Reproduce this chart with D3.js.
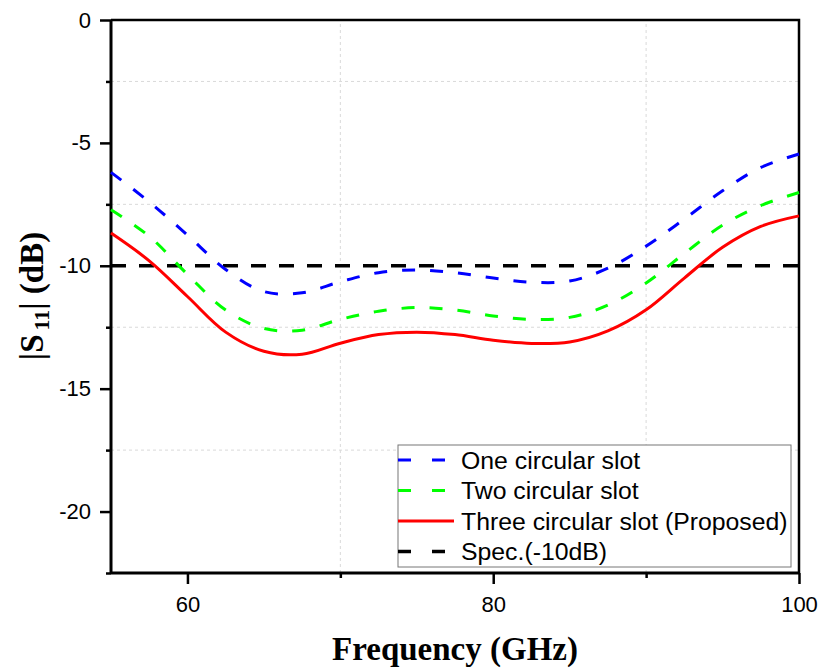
<!DOCTYPE html>
<html>
<head>
<meta charset="utf-8">
<script src="https://cdn.jsdelivr.net/npm/d3@7"></script>
<style>
  body { margin: 0; background: #fff; }
  svg { display: block; }
</style>
</head>
<body>
<svg id="chart"></svg>
<script>
// frequency samples (GHz)
var freq = [55, 57.5, 60, 62.5, 65, 67.5, 70, 72.5, 75, 77.5, 80, 82.5, 85, 87.5, 90, 92.5, 95, 97.5, 100];
// |S11| in dB
var oneSlot = [-6.2, -7.4, -8.75, -10.15, -11.05, -11.1, -10.65, -10.28, -10.17, -10.28, -10.5, -10.67, -10.62, -10.1, -9.2, -8.1, -6.95, -6.0, -5.45];
var twoSlot = [-7.72, -8.8, -10.35, -11.8, -12.55, -12.62, -12.18, -11.85, -11.7, -11.8, -12.04, -12.18, -12.1, -11.6, -10.7, -9.5, -8.35, -7.55, -7.02];
var threeSlot = [-8.67, -9.8, -11.25, -12.7, -13.48, -13.6, -13.15, -12.8, -12.7, -12.8, -13.03, -13.16, -13.1, -12.65, -11.79, -10.5, -9.25, -8.4, -7.97];
var specLevel = -10;

var seriesNames = ["One circular slot", "Two circular slot", "Three circular slot (Proposed)", "Spec.(-10dB)"];
var xTicks = [60, 80, 100];
var xMinorTicks = [70, 90];
var yTicks = [0, -5, -10, -15, -20];
var yMinorTicks = [-2.5, -7.5, -12.5, -17.5, -22.5];

var width = 822, height = 669;
var margin = { left: 111, right: 23, top: 20, bottom: 96 };

var svg = d3.select("#chart").attr("width", width).attr("height", height);

var x = d3.scaleLinear().domain([55, 100]).range([margin.left, width - margin.right]);
var y = d3.scaleLinear().domain([-22.5, 0]).range([height - margin.bottom, margin.top]);

var plain = function (d) { return String(d); };

// grid lines at minor ticks
var grid = svg.append("g").attr("class", "grid");
grid.selectAll("line.gx").data(xMinorTicks).enter().append("line")
    .attr("x1", function (d) { return x(d); }).attr("x2", function (d) { return x(d); })
    .attr("y1", y(-22.5)).attr("y2", y(0))
    .attr("stroke", "#d9d9d9").attr("stroke-width", 1).attr("stroke-dasharray", "3,3");
grid.selectAll("line.gy").data(yMinorTicks.filter(function (d) { return d > -22.5; })).enter().append("line")
    .attr("x1", x(55)).attr("x2", x(100))
    .attr("y1", function (d) { return y(d); }).attr("y2", function (d) { return y(d); })
    .attr("stroke", "#d9d9d9").attr("stroke-width", 1).attr("stroke-dasharray", "3,3");

// axes
var xAxis = svg.append("g")
    .attr("transform", "translate(0," + y(-22.5) + ")")
    .call(d3.axisBottom(x).tickValues(xTicks).tickSize(11).tickPadding(12).tickFormat(plain));
var xAxisMinor = svg.append("g")
    .attr("transform", "translate(0," + y(-22.5) + ")")
    .call(d3.axisBottom(x).tickValues(xMinorTicks).tickSize(5).tickFormat(""));
var yAxis = svg.append("g")
    .attr("transform", "translate(" + x(55) + ",0)")
    .call(d3.axisLeft(y).tickValues(yTicks).tickSize(11).tickPadding(9).tickFormat(plain));
var yAxisMinor = svg.append("g")
    .attr("transform", "translate(" + x(55) + ",0)")
    .call(d3.axisLeft(y).tickValues(yMinorTicks).tickSize(5).tickFormat(""));

[xAxis, xAxisMinor, yAxis, yAxisMinor].forEach(function (g) {
    g.select(".domain").attr("stroke", "#000").attr("stroke-width", 3);
    g.selectAll(".tick line").attr("stroke", "#000").attr("stroke-width", 2.5);
    g.selectAll(".tick text")
        .attr("fill", "#000")
        .style("font-family", "Liberation Sans, Arial, sans-serif")
        .style("font-size", "22px");
});
xAxis.select(".domain").attr("d", "M" + x(55) + ",0H" + x(100));
yAxis.select(".domain").attr("d", "M0," + y(-22.5) + "V" + y(0));
xAxisMinor.select(".domain").remove();
yAxisMinor.select(".domain").remove();

// top and right frame
svg.append("path")
    .attr("d", "M" + x(55) + "," + y(0) + "H" + x(100) + "V" + y(-22.5))
    .attr("fill", "none").attr("stroke", "#000").attr("stroke-width", 2.5);

// curves
var line = d3.line()
    .x(function (d) { return x(d[0]); })
    .y(function (d) { return y(d[1]); })
    .curve(d3.curveCatmullRom.alpha(0.5));

var series = [
    { name: seriesNames[0], values: oneSlot, color: "#0000ff", dash: "13,15", legendDash: "13,21" },
    { name: seriesNames[1], values: twoSlot, color: "#00ff00", dash: "13,15", legendDash: "13,21" },
    { name: seriesNames[2], values: threeSlot, color: "#ff0000", dash: null, legendDash: null }
];

var plot = svg.append("g");
plot.append("line")
    .attr("x1", x(55)).attr("x2", x(100))
    .attr("y1", y(specLevel)).attr("y2", y(specLevel))
    .attr("stroke", "#000").attr("stroke-width", 3.5).attr("stroke-dasharray", "15,13");

series.forEach(function (s) {
    plot.append("path")
        .datum(freq.map(function (f, i) { return [f, s.values[i]]; }))
        .attr("d", line)
        .attr("fill", "none")
        .attr("stroke", s.color)
        .attr("stroke-width", 3)
        .attr("stroke-dasharray", s.dash);
});

// legend
var legend = svg.append("g").attr("transform", "translate(398,445)");
legend.append("rect")
    .attr("width", 393).attr("height", 122)
    .attr("fill", "#fff").attr("stroke", "#777").attr("stroke-width", 1);
var legendItems = series.concat([{ name: seriesNames[3], color: "#000", legendDash: "13,21", width: 3.5 }]);
legendItems.forEach(function (s, i) {
    var cy = 15 + i * 30.5;
    legend.append("line")
        .attr("x1", 0).attr("x2", 56)
        .attr("y1", cy).attr("y2", cy)
        .attr("stroke", s.color).attr("stroke-width", s.width || 3)
        .attr("stroke-dasharray", s.legendDash);
    legend.append("text")
        .attr("x", 63).attr("y", cy)
        .attr("dy", "0.36em")
        .style("font-family", "Liberation Sans, Arial, sans-serif")
        .style("font-size", "24.8px")
        .text(s.name);
});

// axis titles
svg.append("text")
    .attr("x", (x(55) + x(100)) / 2)
    .attr("y", 660)
    .attr("text-anchor", "middle")
    .style("font-family", "Liberation Serif, Times New Roman, serif")
    .style("font-weight", "bold")
    .style("font-size", "33px")
    .text("Frequency (GHz)");

var yTitle = svg.append("text")
    .attr("transform", "translate(43,296) rotate(-90)")
    .attr("text-anchor", "middle")
    .style("font-family", "Liberation Serif, Times New Roman, serif")
    .style("font-weight", "bold")
    .style("font-size", "33px");
yTitle.append("tspan").text("|S");
yTitle.append("tspan").attr("dx", 4).attr("dy", 6).style("font-size", "22px").text("11");
yTitle.append("tspan").attr("dy", -6).text("| (dB)");
</script>
</body>
</html>
